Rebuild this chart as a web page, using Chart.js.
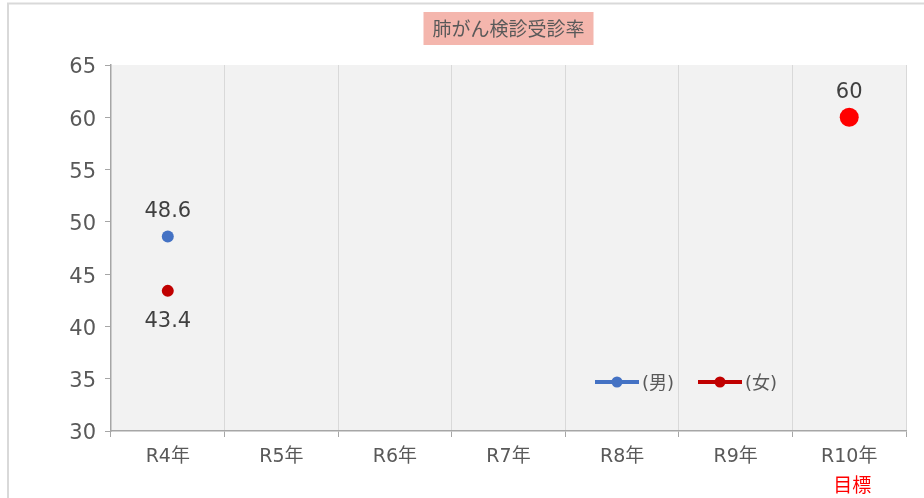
<!DOCTYPE html>
<html lang="ja">
<head>
<meta charset="utf-8">
<title>肺がん検診受診率</title>
<script src="https://cdn.jsdelivr.net/npm/chart.js@4/dist/chart.umd.min.js"></script>
<style>
  html, body { margin: 0; padding: 0; background: #ffffff; }
  #wrap { width: 924px; height: 498px; position: relative; }
</style>
</head>
<body>
<div id="wrap"><canvas id="c" width="924" height="498"></canvas></div>
<script>
// 年度ラベルと受診率（%）
const categories = ['R4年', 'R5年', 'R6年', 'R7年', 'R8年', 'R9年', 'R10年'];
const maleRates   = [48.6, null, null, null, null, null, null];
const femaleRates = [43.4, null, null, null, null, null, null];
const targetRates = [null, null, null, null, null, null, 60];
const yTicks = [30, 35, 40, 45, 50, 55, 60, 65];
const titleText = '肺がん検診受診率';
const targetNote = '目標';

const FONT = '"DejaVu Sans", "Noto Sans CJK JP", sans-serif';
const CJK = '"Noto Sans CJK JP", sans-serif';
const TEXT = '#595959';

// 外枠・タイトル・プロット背景
const framePlugin = {
  id: 'frame',
  beforeDraw(chart) {
    const { ctx, chartArea: a } = chart;
    ctx.save();
    ctx.strokeStyle = '#d9d9d9';
    ctx.lineWidth = 2;
    ctx.strokeRect(8, 3.5, 1000, 1000);
    ctx.fillStyle = '#f2f2f2';
    ctx.fillRect(a.left, a.top, a.right - a.left, a.bottom - a.top);
    // タイトル
    ctx.font = '19px ' + CJK;
    const cx = (a.left + a.right) / 2;
    const w = 170;
    ctx.fillStyle = '#f4b6ad';
    ctx.fillRect(cx - w / 2, 12, w, 33);
    ctx.fillStyle = TEXT;
    ctx.textAlign = 'center';
    ctx.textBaseline = 'middle';
    ctx.fillText(titleText, cx, 29);
    ctx.restore();
  }
};

// データラベル・凡例・「目標」注記
const labelPlugin = {
  id: 'labels',
  afterDatasetsDraw(chart) {
    const { ctx, chartArea: a } = chart;
    ctx.save();
    ctx.font = '21px ' + FONT;
    ctx.fillStyle = '#404040';
    ctx.textAlign = 'center';
    ctx.textBaseline = 'middle';
    chart.data.datasets.forEach((ds, i) => {
      const meta = chart.getDatasetMeta(i);
      meta.data.forEach((pt, j) => {
        const v = ds.data[j];
        if (v === null || v === undefined) return;
        const dy = ds.labelPos === 'below' ? 31 : -25;
        ctx.fillText(String(v), pt.x, pt.y + dy);
      });
    });

    // 凡例（線＋マーカー）
    const legendY = a.bottom - 49;
    const items = [
      { ds: chart.data.datasets[0], x: a.left + 484 },
      { ds: chart.data.datasets[1], x: a.left + 587 }
    ];
    ctx.font = '18px ' + FONT;
    ctx.textAlign = 'left';
    items.forEach(it => {
      ctx.strokeStyle = it.ds.borderColor;
      ctx.lineWidth = 4;
      ctx.beginPath();
      ctx.moveTo(it.x, legendY);
      ctx.lineTo(it.x + 44, legendY);
      ctx.stroke();
      ctx.fillStyle = it.ds.backgroundColor;
      ctx.beginPath();
      ctx.arc(it.x + 22, legendY, 5.5, 0, Math.PI * 2);
      ctx.fill();
      ctx.fillStyle = TEXT;
      ctx.fillText('(' + it.ds.label + ')', it.x + 47, legendY + 2);
    });

    // 最終年度の下に「目標」
    const xs = chart.scales.x;
    const lx = xs.getPixelForTick(categories.length - 1);
    ctx.font = '19px ' + CJK;
    ctx.fillStyle = '#ff0000';
    ctx.textAlign = 'center';
    ctx.fillText(targetNote, lx + 3, 485);
    ctx.restore();
  }
};

new Chart(document.getElementById('c'), {
  type: 'line',
  data: {
    labels: categories,
    datasets: [
      {
        label: '男', data: maleRates, labelPos: 'above',
        borderColor: '#4472c4', backgroundColor: '#4472c4',
        pointRadius: 6, pointHoverRadius: 6, showLine: false, pointBorderWidth: 0
      },
      {
        label: '女', data: femaleRates, labelPos: 'below',
        borderColor: '#c00000', backgroundColor: '#c00000',
        pointRadius: 6, pointHoverRadius: 6, showLine: false, pointBorderWidth: 0
      },
      {
        label: '目標', data: targetRates, labelPos: 'above',
        borderColor: '#ff0000', backgroundColor: '#ff0000',
        pointRadius: 9.5, pointHoverRadius: 9.5, showLine: false, pointBorderWidth: 0
      }
    ]
  },
  options: {
    responsive: false,
    animation: false,
    devicePixelRatio: 1,
    layout: { padding: { top: 65, right: 18, bottom: 0, left: 0 } },
    plugins: { legend: { display: false }, title: { display: false }, tooltip: { enabled: false } },
    scales: {
      x: {
        type: 'category',
        offset: true,
        grid: { offset: true, color: '#d9d9d9', tickColor: '#a6a6a6', tickLength: 6, drawOnChartArea: true },
        border: { color: '#a6a6a6', width: 1.5 },
        ticks: { color: TEXT, font: { family: FONT, size: 19 }, padding: 9, maxRotation: 0 },
        afterFit(s) { s.height = 67; }
      },
      y: {
        min: 30, max: 65,
        afterBuildTicks(s) { s.ticks = yTicks.map(v => ({ value: v })); },
        grid: { drawOnChartArea: false, tickColor: '#a6a6a6', tickLength: 6 },
        border: { color: '#a6a6a6', width: 1.5 },
        ticks: { color: TEXT, font: { family: FONT, size: 21 }, padding: 9, labelOffset: 3 },
        afterFit(s) { s.width = 111; }
      }
    }
  },
  plugins: [framePlugin, labelPlugin]
});
</script>
</body>
</html>
